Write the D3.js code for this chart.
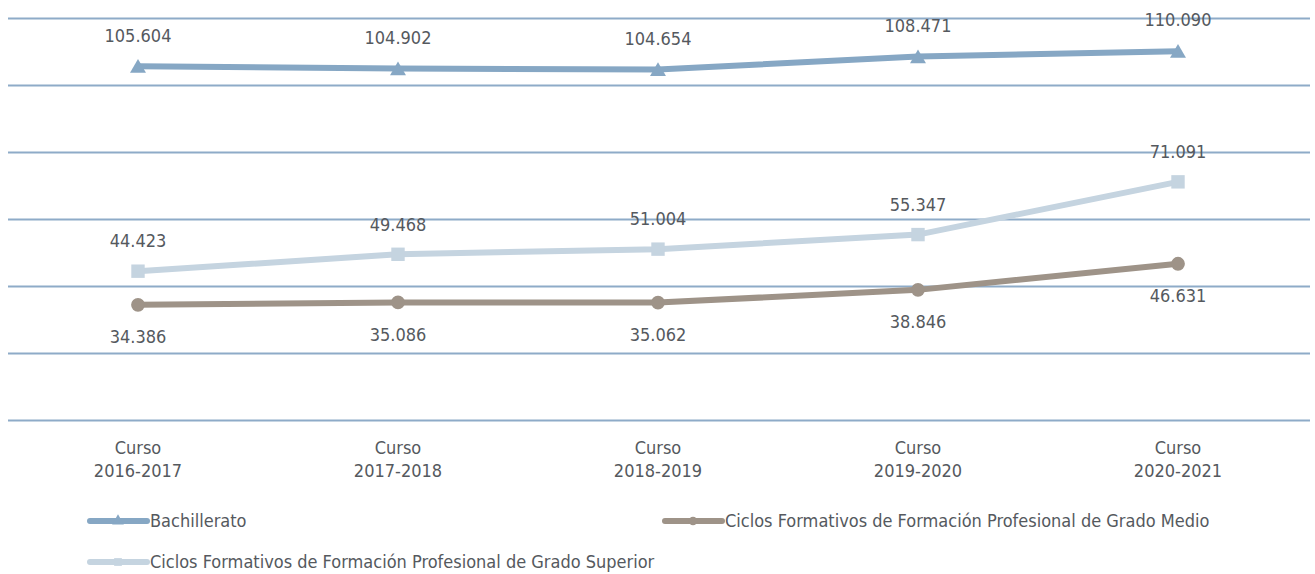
<!DOCTYPE html>
<html>
<head>
<meta charset="utf-8">
<script src="https://cdn.jsdelivr.net/npm/d3@7"></script>
<style>
  body { margin: 0; background: #fff; }
  text { font-family: "Liberation Sans Narrow", "DejaVu Sans Condensed", Arial, sans-serif; fill: #55595e; }
</style>
</head>
<body>
<div id="chart"></div>
<script>
const cursos = ["2016-2017", "2017-2018", "2018-2019", "2019-2020", "2020-2021"];
const bachillerato = [105604, 104902, 104654, 108471, 110090];
const gradoMedio = [34386, 35086, 35062, 38846, 46631];
const gradoSuperior = [44423, 49468, 51004, 55347, 71091];
const yTicks = [0, 20000, 40000, 60000, 80000, 100000, 120000];

const width = 1315, height = 574;
const svg = d3.select("#chart").append("svg")
  .attr("width", width)
  .attr("height", height);

const x = d3.scalePoint().domain(cursos).range([138, 1178]);
const y = d3.scaleLinear().domain([0, 120000]).range([420, 18]);

// gridlines
svg.append("g").selectAll("line")
  .data(yTicks)
  .join("line")
  .attr("x1", 8).attr("x2", 1310)
  .attr("y1", d => Math.round(y(d)) + 0.5).attr("y2", d => Math.round(y(d)) + 0.5)
  .attr("stroke", "#8eabc8")
  .attr("stroke-width", 2);

// x labels
const xl = svg.append("g").selectAll("text")
  .data(cursos)
  .join("text")
  .attr("x", d => x(d))
  .attr("text-anchor", "middle")
  .attr("font-size", 18);
xl.append("tspan").attr("x", d => x(d)).attr("y", 454).text("Curso");
xl.append("tspan").attr("x", d => x(d)).attr("y", 477).text(d => d);

const fmt = v => d3.format(",")(v).replace(/,/g, ".");

const series = [
  { name: "Bachillerato", values: bachillerato, color: "#86a7c4", symbol: d3.symbolTriangle, size: 110, labelDy: -31 },
  { name: "Ciclos Formativos de Formación Profesional de Grado Superior", values: gradoSuperior, color: "#c5d4e0", symbol: d3.symbolSquare, size: 180, labelDy: -30 },
  { name: "Ciclos Formativos de Formación Profesional de Grado Medio", values: gradoMedio, color: "#9e9388", symbol: d3.symbolCircle, size: 150, labelDy: 32 }
];

const line = d3.line()
  .x((d, i) => x(cursos[i]))
  .y(d => y(d));

series.forEach(s => {
  svg.append("path")
    .datum(s.values)
    .attr("d", line)
    .attr("fill", "none")
    .attr("stroke", s.color)
    .attr("stroke-width", 6);

  svg.append("g").selectAll("path")
    .data(s.values)
    .join("path")
    .attr("d", d3.symbol().type(s.symbol).size(s.size))
    .attr("transform", (d, i) => `translate(${x(cursos[i])},${y(d) + (s.symbol === d3.symbolTriangle ? 2 : 0)})`)
    .attr("fill", s.color);

  svg.append("g").selectAll("text")
    .data(s.values)
    .join("text")
    .attr("x", (d, i) => x(cursos[i]))
    .attr("y", d => y(d) + s.labelDy)
    .attr("dy", "0.35em")
    .attr("text-anchor", "middle")
    .attr("font-size", 18)
    .text(d => fmt(d));
});

// legend
const legendItems = [
  { s: series[0], x: 90, y: 521 },
  { s: series[2], x: 665, y: 521 },
  { s: series[1], x: 90, y: 562 }
];
legendItems.forEach(it => {
  const g = svg.append("g").attr("transform", `translate(${it.x},${it.y})`);
  g.append("line")
    .attr("x1", 0).attr("x2", 57)
    .attr("stroke", it.s.color)
    .attr("stroke-width", 6)
    .attr("stroke-linecap", "round");
  g.append("path")
    .attr("d", d3.symbol().type(it.s.symbol).size(60))
    .attr("transform", "translate(28,0)")
    .attr("fill", it.s.color);
  g.append("text")
    .attr("x", 60)
    .attr("dy", "0.35em")
    .attr("font-size", 18)
    .text(it.s.name);
});
</script>
</body>
</html>
